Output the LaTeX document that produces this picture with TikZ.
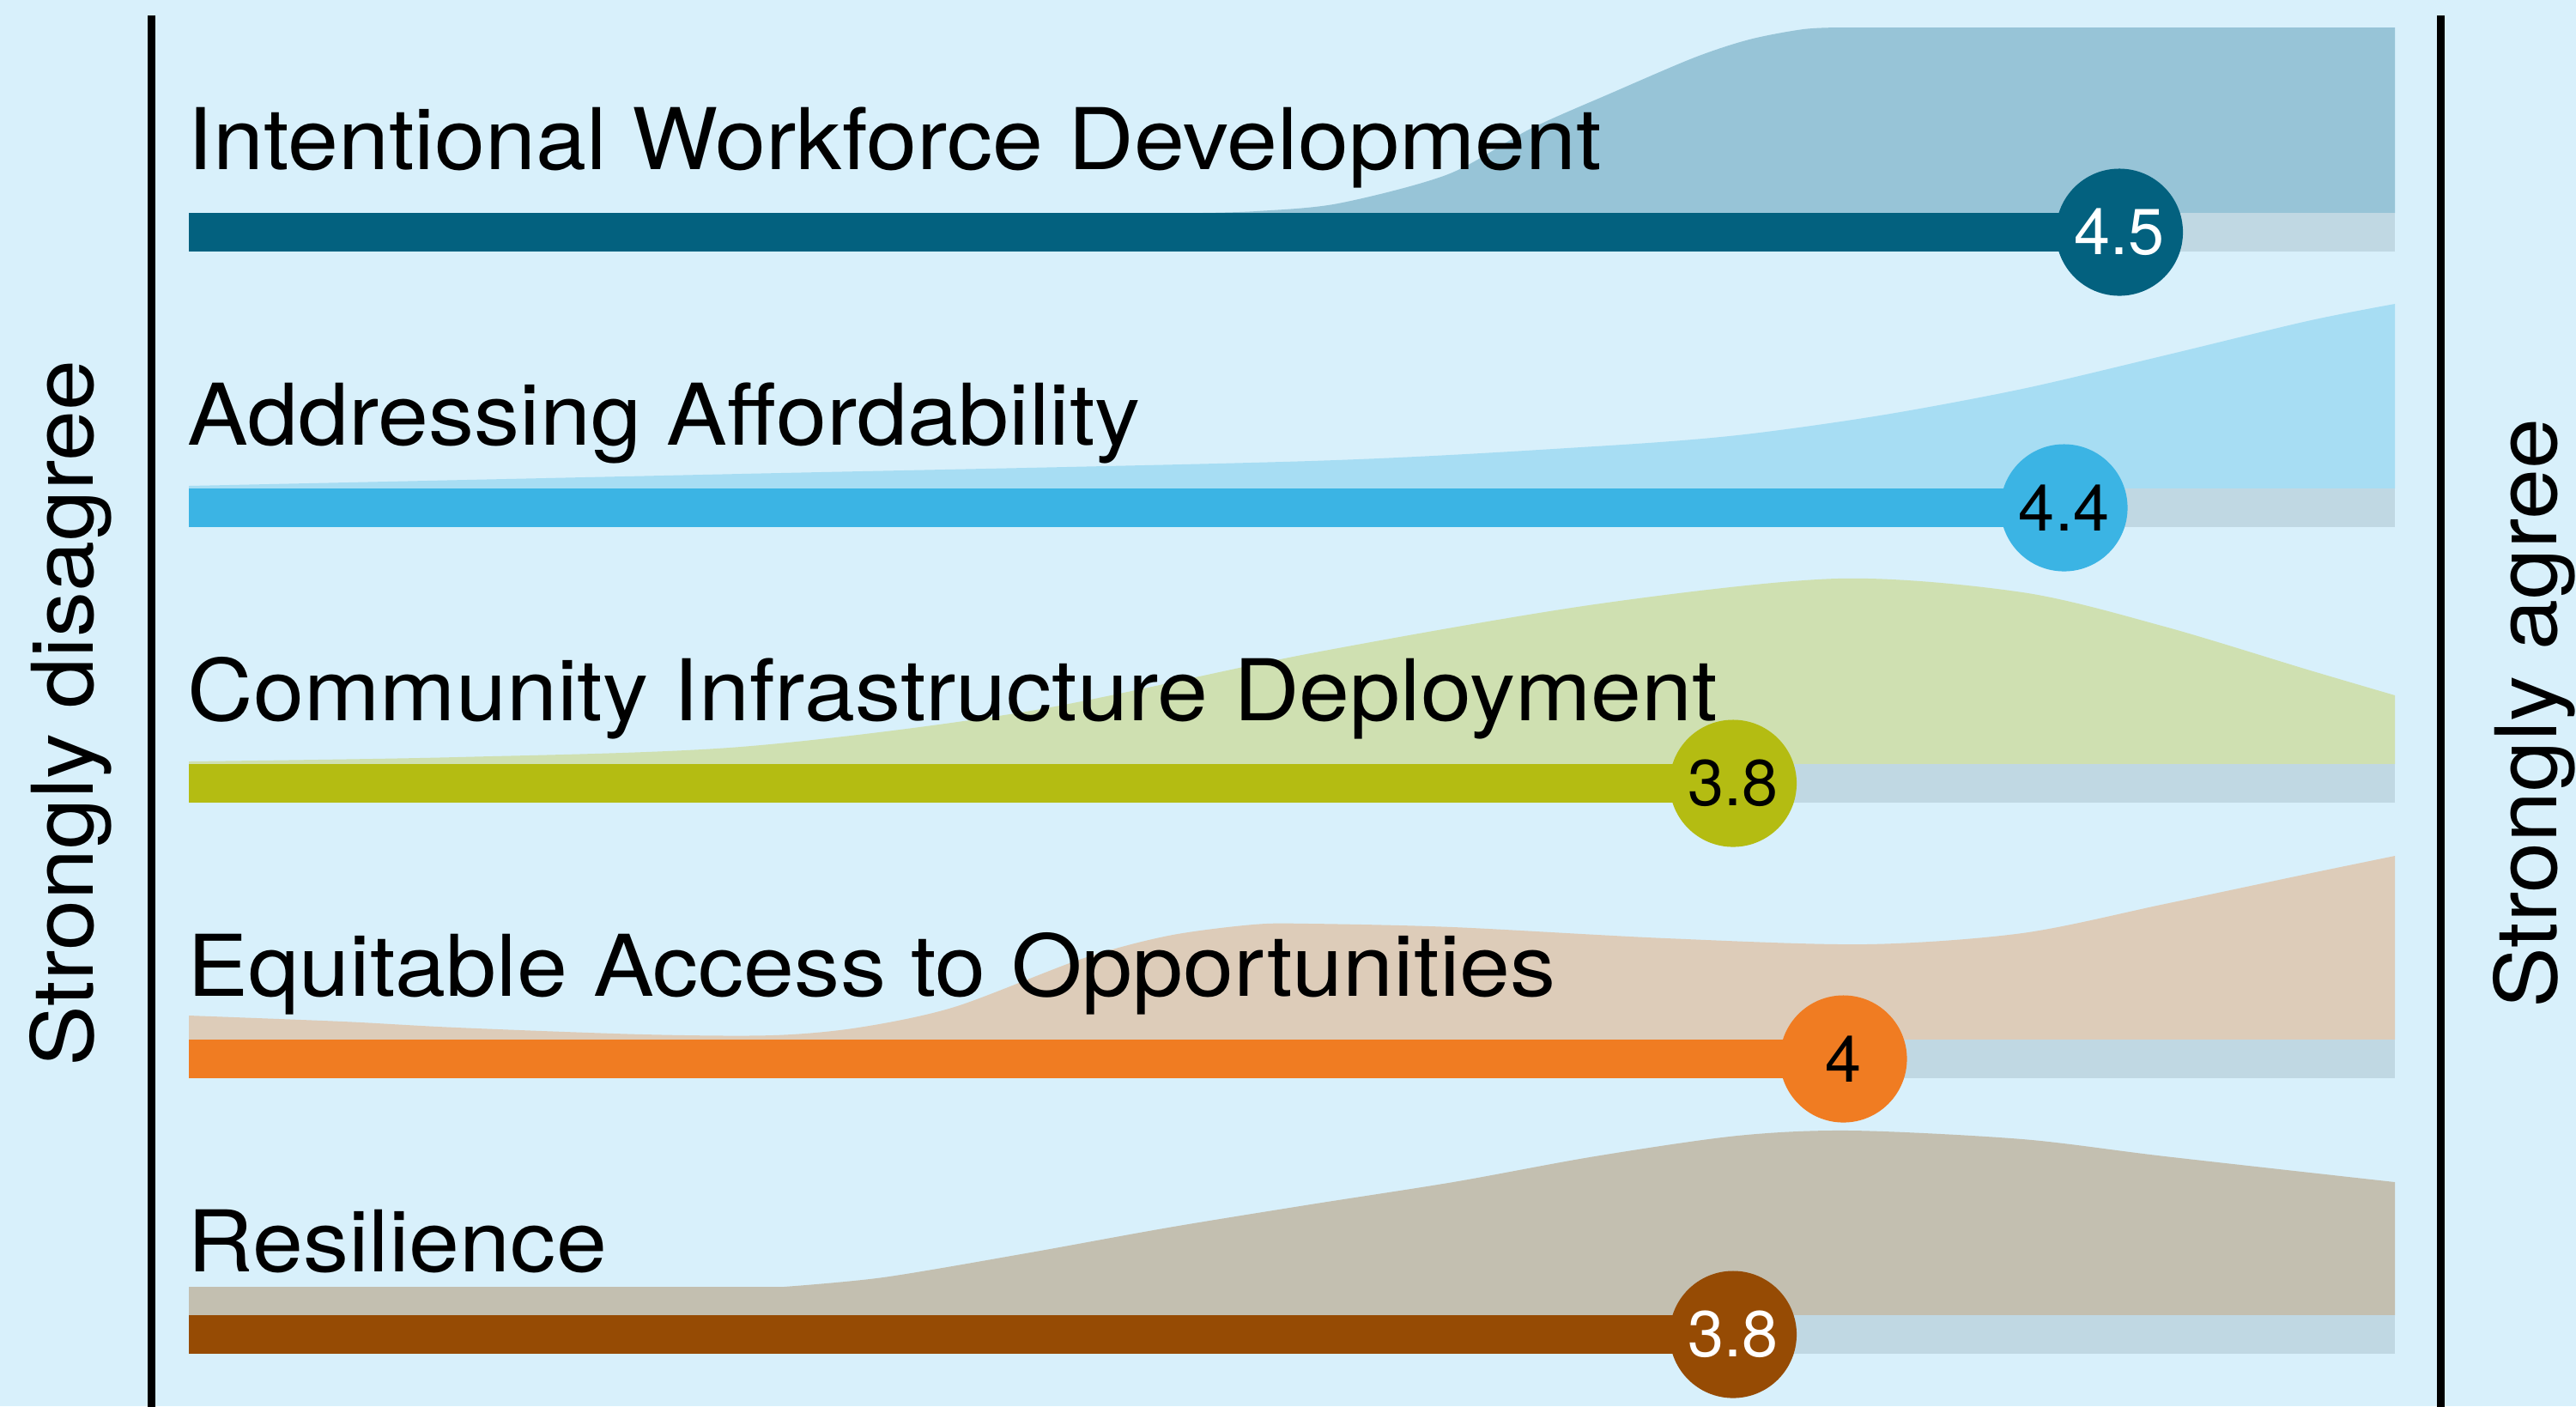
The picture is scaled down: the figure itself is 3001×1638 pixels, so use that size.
\documentclass[tikz,border=0pt]{standalone}
\usepackage{fontspec}
\setmainfont{TeX Gyre Heros}[FakeStretch=1.07]
\newfontfamily\numfont{TeX Gyre Heros}
\definecolor{bg}{HTML}{D8F0FB}
\definecolor{trk}{HTML}{C0D8E3}
\definecolor{aA}{HTML}{97C4D7}
\definecolor{cA}{HTML}{03617F}
\definecolor{aB}{HTML}{A7DDF3}
\definecolor{cB}{HTML}{3BB4E4}
\definecolor{aC}{HTML}{CFE0B1}
\definecolor{cC}{HTML}{B4BC12}
\definecolor{aD}{HTML}{DDCCB9}
\definecolor{cD}{HTML}{F07C22}
\definecolor{aE}{HTML}{C3BFB0}
\definecolor{cE}{HTML}{964B04}
\begin{document}
\begin{tikzpicture}[x=0.01cm,y=-0.01cm,
  lbl/.style={anchor=base west, inner sep=0pt, font=\fontsize{28.2}{30}\selectfont, text=black},
  side/.style={anchor=base, inner sep=0pt, rotate=90, font=\fontsize{28.2}{30}\selectfont, text=black},
  dot/.style={circle, minimum size=1.48cm, inner sep=0pt, font=\numfont\fontsize{21.5}{22}\selectfont},
  barline/.style={line width=0.45cm, line cap=butt},
  trackline/.style={line width=0.45cm, line cap=butt, draw=trk},
  axisline/.style={line width=0.09cm, draw=black}]
\useasboundingbox (0,0) rectangle (3001,1638);
\fill[bg] (0,0) rectangle (3001,1638);

% ---- density areas ----
\fill[aA] (1400,248) -- plot[smooth, tension=0.5] coordinates {(1400,248) (1464,246) (1559,237) (1687,203) (1783,150) (1878,108) (1974,67) (2038,46) (2101,34) (2145,32)} -- (2790,32) -- (2790,248) -- cycle;
\fill[aB] (220,569) -- plot[smooth, tension=0.5] coordinates {(220,566) (863,552) (1527,537) (1858,520) (2024,507) (2190,484) (2356,453) (2522,414) (2688,374) (2790,354)} -- (2790,569) -- cycle;
\fill[aC] (220,890) -- plot[smooth, tension=0.5] coordinates {(220,887) (532,882) (863,870) (1195,829) (1527,761) (1858,704) (2140,674) (2356,690) (2522,730) (2688,780) (2790,810)} -- (2790,890) -- cycle;
\fill[aD] (220,1211) -- plot[smooth, tension=0.5] coordinates {(220,1183) (400,1190) (532,1197) (750,1205) (900,1206) (1000,1197) (1112,1173) (1260,1117) (1361,1090) (1460,1077) (1527,1076) (1693,1080) (1941,1093) (2173,1100) (2356,1087) (2522,1053) (2688,1018) (2790,997)} -- (2790,1211) -- cycle;
\fill[aE] (220,1532) -- (220,1499) -- plot[smooth, tension=0.5] coordinates {(913,1499) (1029,1488) (1195,1460) (1361,1430) (1527,1403) (1693,1377) (1858,1347) (2024,1323) (2157,1317) (2356,1327) (2522,1347) (2790,1377)} -- (2790,1532) -- cycle;

% ---- axes ----
\coordinate (lt) at (176,18);
\coordinate (lb) at (176,1640);
\coordinate (rt) at (2843,18);
\coordinate (rb) at (2843,1640);
\draw[axisline] (lt) -- (lb);
\draw[axisline] (rt) -- (rb);
\node[side] (sd) at (108,831) {Strongly disagree};
\node[side] (sa) at (2978,831) {Strongly agree};

% ---- labels ----
\node[lbl] (t1) at (218,197) {Intentional Workforce Development};
\node[lbl] (t2) at (218,518) {Addressing Affordability};
\node[lbl] (t3) at (218,839) {Community Infrastructure Deployment};
\node[lbl] (t4) at (218,1160) {Equitable Access to Opportunities};
\node[lbl] (t5) at (218,1481) {Resilience};

% ---- bar ends ----
\coordinate (s1) at (220,270.5);  \coordinate (e1) at (2790,270.5);
\coordinate (s2) at (220,591.5);  \coordinate (e2) at (2790,591.5);
\coordinate (s3) at (220,912.5);  \coordinate (e3) at (2790,912.5);
\coordinate (s4) at (220,1233.5); \coordinate (e4) at (2790,1233.5);
\coordinate (s5) at (220,1554.5); \coordinate (e5) at (2790,1554.5);
\coordinate (m1) at (2469,270.5);
\coordinate (m2) at (2404.5,591.5);
\coordinate (m3) at (2019,912.5);
\coordinate (m4) at (2147.5,1233.5);
\coordinate (m5) at (2019,1554.5);

% tracks
\draw[trackline] (m1) -- (e1);
\draw[trackline] (m2) -- (e2);
\draw[trackline] (m3) -- (e3);
\draw[trackline] (m4) -- (e4);
\draw[trackline] (m5) -- (e5);
% bars
\draw[barline, draw=cA] (s1) -- (m1);
\draw[barline, draw=cB] (s2) -- (m2);
\draw[barline, draw=cC] (s3) -- (m3);
\draw[barline, draw=cD] (s4) -- (m4);
\draw[barline, draw=cE] (s5) -- (m5);
% dots
\node[dot, fill=cA, text=white] (d1) at (m1) {4.5};
\node[dot, fill=cB, text=black] (d2) at (m2) {4.4};
\node[dot, fill=cC, text=black] (d3) at (m3) {3.8};
\node[dot, fill=cD, text=black] (d4) at (m4) {4};
\node[dot, fill=cE, text=white] (d5) at (m5) {3.8};
\end{tikzpicture}
\end{document}
